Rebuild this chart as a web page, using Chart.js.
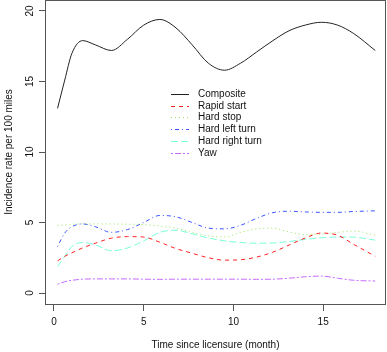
<!DOCTYPE html>
<html>
<head>
<meta charset="utf-8">
<script src="https://cdn.jsdelivr.net/npm/chart.js@4/dist/chart.umd.min.js"></script>
<style>
  html, body { margin: 0; padding: 0; background: #fff; }
  #wrap { width: 387px; height: 352px; }
</style>
</head>
<body>
<div id="wrap"><canvas id="chart"></canvas></div>
<script>
// months since licensure (shared x values)
const months = [0.2, 0.6, 1.0, 1.6, 2.3, 3.2, 4.1, 5.0, 5.9, 6.8, 7.7, 8.6, 9.5, 10.4, 11.3, 12.2, 13.1, 14.0, 14.9, 15.8, 16.7, 17.9];

const composite = [13.1, 15.1, 17.0, 17.9, 17.6, 17.2, 18.0, 19.0, 19.4, 18.8, 17.6, 16.3, 15.8, 16.3, 17.1, 17.9, 18.6, 19.0, 19.2, 19.0, 18.4, 17.2];
const rapidStart = [2.28, 2.6, 2.85, 3.2, 3.53, 3.89, 4.0, 3.97, 3.6, 3.15, 2.82, 2.5, 2.33, 2.36, 2.55, 2.9, 3.4, 3.9, 4.25, 4.1, 3.45, 2.6];
const hardStop = [4.77, 4.83, 4.88, 4.9, 4.9, 4.9, 4.88, 4.85, 4.75, 4.6, 4.3, 4.05, 3.98, 4.3, 4.55, 4.6, 4.33, 4.15, 4.18, 4.3, 4.4, 4.1];
const hardLeft = [3.3, 4.25, 4.7, 4.9, 4.7, 4.3, 4.5, 5.0, 5.5, 5.4, 5.0, 4.6, 4.55, 4.8, 5.3, 5.7, 5.8, 5.75, 5.72, 5.72, 5.78, 5.83];
const hardRight = [1.87, 2.6, 3.3, 3.58, 3.41, 3.0, 3.2, 3.7, 4.3, 4.45, 4.2, 3.9, 3.7, 3.58, 3.53, 3.55, 3.65, 3.8, 3.92, 3.97, 3.96, 3.75];
const yaw = [0.62, 0.8, 0.9, 0.98, 1.0, 1.0, 1.0, 0.98, 0.97, 0.98, 0.98, 0.98, 0.98, 0.98, 0.97, 0.98, 1.05, 1.15, 1.2, 1.05, 0.9, 0.85];

const seriesNames = ["Composite", "Rapid start", "Hard stop", "Hard left turn", "Hard right turn", "Yaw"];
const xTicks = [0, 5, 10, 15];
const yTicks = [0, 5, 10, 15, 20];

const allSeries = [composite, rapidStart, hardStop, hardLeft, hardRight, yaw];
const colors = ["#222222", "#ff2020", "#9be65a", "#3a55ff", "#7affda", "#c66cff"];
const dashes = [[], [4, 4], [1, 3], [1, 3, 4, 3], [7, 3], [2, 2, 6, 2]];

const FONT = "'Liberation Sans', Arial, sans-serif";

const datasets = allSeries.map((vals, i) => ({
  label: seriesNames[i],
  data: vals.map((v, j) => ({ x: months[j], y: v })),
  borderColor: colors[i],
  borderWidth: 1,
  borderDash: dashes[i],
  pointRadius: 0,
  fill: false,
  cubicInterpolationMode: "monotone"
}));

// R style box, rotated y labels and legend inside the plot
const rStyle = {
  id: "rStyle",
  afterDraw(chart) {
    const ctx = chart.ctx;
    const a = chart.chartArea;
    const ys = chart.scales.y;
    ctx.save();
    ctx.strokeStyle = "#555";
    ctx.lineWidth = 1;
    ctx.strokeRect(a.left + 0.5, a.top + 0.5, a.right - a.left - 1, a.bottom - a.top);

    // y tick labels
    ctx.fillStyle = "#111";
    ctx.font = "10px " + FONT;
    ctx.textAlign = "center";
    ctx.textBaseline = "middle";
    yTicks.forEach(v => {
      const py = ys.getPixelForValue(v);
      ctx.save();
      ctx.translate(30, py);
      ctx.rotate(-Math.PI / 2);
      ctx.fillText(String(v), 0, 0);
      ctx.restore();
    });

    // legend
    const lx = 171, tx = 198, top = 94, step = 11.7;
    ctx.textAlign = "left";
    chart.data.datasets.forEach((ds, i) => {
      const y = Math.round(top + i * step) + 0.5;
      ctx.strokeStyle = ds.borderColor;
      ctx.setLineDash(ds.borderDash);
      ctx.beginPath();
      ctx.moveTo(lx, y);
      ctx.lineTo(lx + 18, y);
      ctx.stroke();
      ctx.setLineDash([]);
      ctx.fillStyle = "#111";
      ctx.fillText(ds.label, tx, y);
    });
    ctx.restore();
  }
};

new Chart(document.getElementById("chart"), {
  type: "line",
  data: { datasets: datasets },
  options: {
    responsive: true,
    maintainAspectRatio: false,
    animation: false,
    layout: { padding: { top: 0, right: 1, left: 0, bottom: 0 } },
    plugins: {
      legend: { display: false },
      tooltip: { enabled: false }
    },
    scales: {
      x: {
        type: "linear",
        min: -0.5,
        max: 18.5,
        afterFit: s => { s.height = 48; },
        afterBuildTicks: s => { s.ticks = xTicks.map(v => ({ value: v })); },
        border: { display: false },
        grid: { drawOnChartArea: false, drawTicks: true, tickLength: 7, color: "#555" },
        ticks: { color: "#111", font: { size: 10, family: FONT }, padding: 5, maxRotation: 0 },
        title: {
          display: true,
          text: "Time since licensure (month)",
          color: "#111",
          font: { size: 10, family: FONT },
          padding: { top: 0, bottom: 1 }
        }
      },
      y: {
        type: "linear",
        min: -0.78,
        max: 20.78,
        afterFit: s => { s.width = 45; },
        afterBuildTicks: s => { s.ticks = yTicks.map(v => ({ value: v })); },
        border: { display: false },
        grid: { drawOnChartArea: false, drawTicks: true, tickLength: 6, color: "#555" },
        ticks: { display: false },
        title: {
          display: true,
          text: "Incidence rate per 100 miles",
          color: "#111",
          font: { size: 10, family: FONT },
          padding: { top: 3, bottom: 0 }
        }
      }
    }
  },
  plugins: [rStyle]
});
</script>
</body>
</html>
